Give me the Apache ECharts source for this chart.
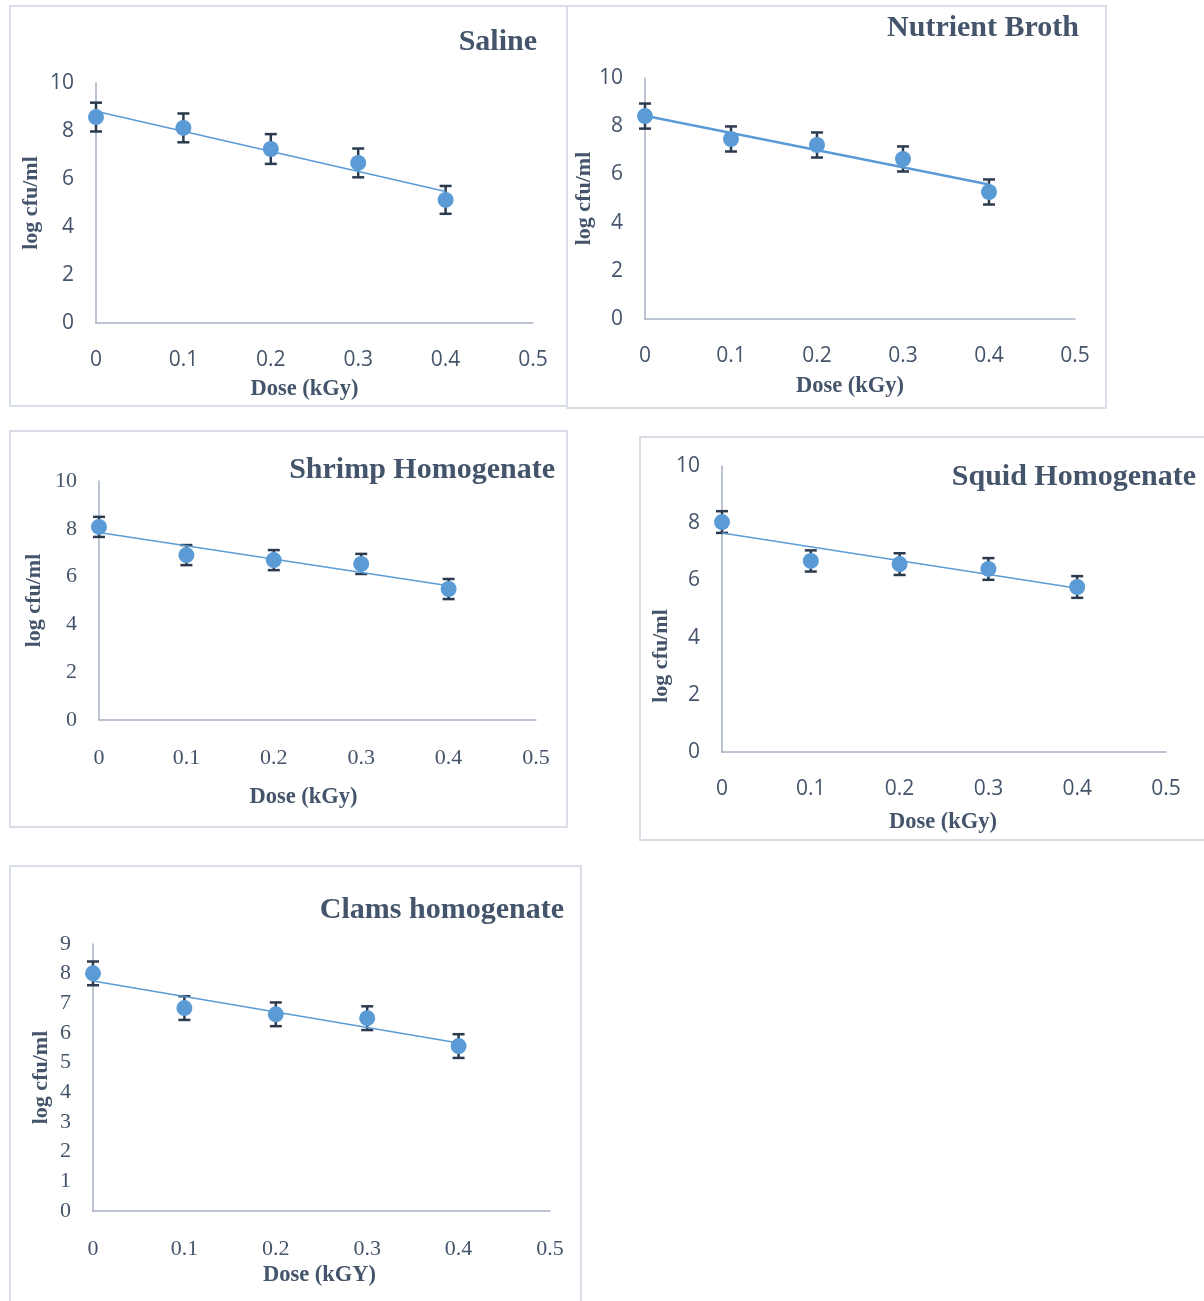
<!DOCTYPE html>
<html><head><meta charset="utf-8">
<script src="https://cdn.jsdelivr.net/npm/echarts@6/dist/echarts.min.js"></script>
<style>html,body{margin:0;padding:0;background:#fff}#c{width:1204px;height:1301px}</style>
</head><body><div id="c"></div>
<script>
// ---- data ----
const doses = [0, 0.1, 0.2, 0.3, 0.4];
const panelTitles = ['Saline', 'Nutrient Broth', 'Shrimp Homogenate', 'Squid Homogenate', 'Clams homogenate'];
const xAxisTitles = ['Dose (kGy)', 'Dose (kGy)', 'Dose (kGy)', 'Dose (kGy)', 'Dose (kGY)'];
const yAxisTitle = 'log cfu/ml';
const salineMean   = [8.58, 8.13, 7.25, 6.67, 5.13];
const salineErr    = [0.60, 0.60, 0.62, 0.60, 0.58];
const nutrientMean = [8.42, 7.47, 7.22, 6.64, 5.27];
const nutrientErr  = [0.52, 0.52, 0.52, 0.52, 0.52];
const shrimpMean   = [8.08, 6.90, 6.69, 6.53, 5.48];
const shrimpErr    = [0.42, 0.42, 0.42, 0.42, 0.42];
const squidMean    = [8.04, 6.68, 6.57, 6.40, 5.77];
const squidErr     = [0.38, 0.37, 0.38, 0.38, 0.38];
const clamsMean    = [8.01, 6.84, 6.63, 6.50, 5.56];
const clamsErr     = [0.40, 0.40, 0.40, 0.40, 0.40];
const yMaxes      = [10, 10, 10, 10, 9];
const yIntervals  = [2, 2, 2, 2, 1];

const means = [salineMean, nutrientMean, shrimpMean, squidMean, clamsMean];
const errs  = [salineErr, nutrientErr, shrimpErr, squidErr, clamsErr];

// ---- layout / style ----
const grids = [
  {left: 96,  top: 83,  width: 437, height: 240},
  {left: 645, top: 78,  width: 430, height: 241},
  {left: 99,  top: 481, width: 437, height: 239},
  {left: 722, top: 466, width: 444, height: 286},
  {left: 93,  top: 944, width: 457, height: 267}
];
const panels = [
  {x: 10,  y: 6,   w: 557, h: 400},
  {x: 567, y: 6,   w: 539, h: 402},
  {x: 10,  y: 431, w: 557, h: 396},
  {x: 640, y: 437, w: 566, h: 403},
  {x: 10,  y: 866, w: 571, h: 440}
];
const titlePos = [[537, 42], [1079, 28], [555, 470], [1196, 477], [564, 910]];
const tickFonts = ['Open Sans', 'Open Sans', 'Liberation Serif', 'Open Sans', 'Liberation Serif'];
const tickSizes = [21, 21, 22, 21, 22];
const yNameGap = [54, 50, 54, 44, 41];
const yNamePad = [[0,0,0,0],[0,0,0,0],[0,0,0,0],[0,94,0,0],[0,0,0,0]];
const xNameGap = [55, 56, 66, 59, 53];
const xNamePad = [[0,20,0,0],[0,20,0,0],[0,28,0,0],[0,2,0,0],[0,4,0,0]];
const trendWidth = [1.5, 2.5, 1.5, 1.5, 1.5];

const inkColor = '#44546A';
const axisColor = '#A7B0C4';
const blue = '#5B9BD5';
const barColor = '#2C3A4D';

function linFit(xs, ys) {
  const n = xs.length;
  const mx = xs.reduce((a, b) => a + b, 0) / n;
  const my = ys.reduce((a, b) => a + b, 0) / n;
  let sxy = 0, sxx = 0;
  for (let i = 0; i < n; i++) { sxy += (xs[i] - mx) * (ys[i] - my); sxx += (xs[i] - mx) ** 2; }
  const b = sxy / sxx, a = my - b * mx;
  return [[xs[0], a + b * xs[0]], [xs[n - 1], a + b * xs[n - 1]]];
}

const option = {
  backgroundColor: '#fff',
  animation: false,
  grid: grids.map(g => Object.assign({containLabel: false}, g)),
  xAxis: grids.map((g, i) => ({
    type: 'value', gridIndex: i, min: 0, max: 0.5, interval: 0.1,
    name: xAxisTitles[i], nameLocation: 'middle', nameGap: xNameGap[i],
    nameTextStyle: {fontFamily: 'Liberation Serif', fontWeight: 'bold', fontSize: 22.5, color: inkColor, padding: xNamePad[i]},
    axisLine: {show: true, lineStyle: {color: axisColor, width: 1.5}},
    axisTick: {show: false}, splitLine: {show: false},
    axisLabel: {margin: 27, fontFamily: tickFonts[i], fontSize: tickSizes[i], color: inkColor,
      formatter: v => String(Math.round(v * 10) / 10)}
  })),
  yAxis: grids.map((g, i) => ({
    type: 'value', gridIndex: i, min: 0, max: yMaxes[i], interval: yIntervals[i],
    name: yAxisTitle, nameLocation: 'middle', nameGap: yNameGap[i], nameRotate: 90,
    nameTextStyle: {fontFamily: 'Liberation Serif', fontWeight: 'bold', fontSize: 22, color: inkColor, padding: yNamePad[i]},
    axisLine: {show: true, onZero: false, lineStyle: {color: axisColor, width: 1.5}},
    axisTick: {show: false}, splitLine: {show: false},
    axisLabel: {margin: 22, fontFamily: tickFonts[i], fontSize: tickSizes[i], color: inkColor}
  })),
  graphic: [].concat(
    panels.map(p => ({type: 'rect', z: -5, shape: {x: p.x, y: p.y, width: p.w, height: p.h},
      style: {fill: '#fff', stroke: '#DADEE6', lineWidth: 2}})),
    panelTitles.map((t, i) => ({type: 'text', z: 10, x: titlePos[i][0], y: titlePos[i][1],
      style: {text: t, fill: inkColor, font: 'bold 30px "Liberation Serif"', textAlign: 'right', textVerticalAlign: 'middle'}}))
  ),
  series: []
};

means.forEach((m, i) => {
  option.series.push({
    type: 'custom', xAxisIndex: i, yAxisIndex: i, z: 2,
    data: doses.map((d, k) => [d, m[k] - errs[i][k], m[k] + errs[i][k]]),
    encode: {x: 0, y: [1, 2]},
    renderItem: function (params, api) {
      const x = api.value(0);
      const pLo = api.coord([x, api.value(1)]);
      const pHi = api.coord([x, api.value(2)]);
      const w = 6;
      const style = {stroke: barColor, lineWidth: 2.5};
      return {type: 'group', children: [
        {type: 'line', shape: {x1: pLo[0], y1: pLo[1], x2: pHi[0], y2: pHi[1]}, style: style},
        {type: 'line', shape: {x1: pLo[0] - w, y1: pLo[1], x2: pLo[0] + w, y2: pLo[1]}, style: style},
        {type: 'line', shape: {x1: pHi[0] - w, y1: pHi[1], x2: pHi[0] + w, y2: pHi[1]}, style: style}
      ]};
    }
  });
  option.series.push({
    type: 'line', xAxisIndex: i, yAxisIndex: i, z: 3,
    data: linFit(doses, m), showSymbol: false, symbol: 'none',
    lineStyle: {color: blue, width: trendWidth[i]}
  });
  option.series.push({
    type: 'scatter', xAxisIndex: i, yAxisIndex: i, z: 4,
    data: doses.map((d, k) => [d, m[k]]), symbolSize: 16,
    itemStyle: {color: blue, opacity: 1}
  });
});

const chart = echarts.init(document.getElementById('c'), null, {renderer: 'canvas'});
chart.setOption(option);
</script>
</body></html>
